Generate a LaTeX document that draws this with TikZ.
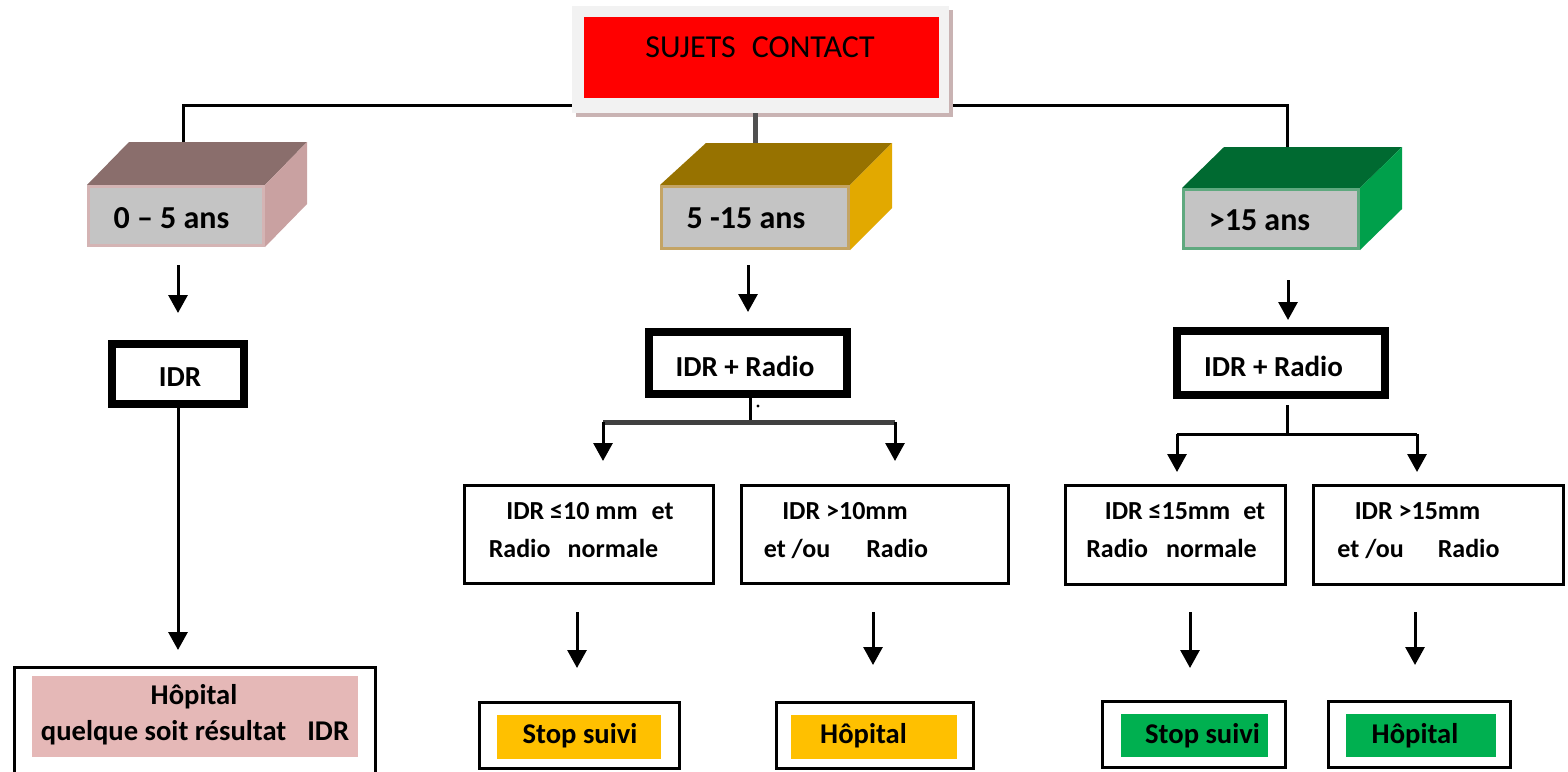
\documentclass[tikz,border=0pt]{standalone}
\usepackage{fontspec}
\setmainfont{Carlito}
\usetikzlibrary{arrows.meta,backgrounds,shadows}
\definecolor{topgray}{HTML}{F2F2F2}
\definecolor{shadowc}{HTML}{C9B3B3}
\definecolor{frontgray}{HTML}{C4C4C4}
\definecolor{midgray}{HTML}{505050}
\definecolor{bargray}{HTML}{404040}
\definecolor{bAtop}{HTML}{8A6E6C}
\definecolor{bAside}{HTML}{C9A1A1}
\definecolor{bAedge}{HTML}{D4B4B4}
\definecolor{bBtop}{HTML}{977200}
\definecolor{bBside}{HTML}{E2A900}
\definecolor{bBedge}{HTML}{C4A464}
\definecolor{bCtop}{HTML}{006A31}
\definecolor{bCside}{HTML}{00A04B}
\definecolor{bCedge}{HTML}{5FA97F}
\definecolor{pinkc}{HTML}{E5B8B7}
\definecolor{yellowc}{HTML}{FFC000}
\definecolor{greenc}{HTML}{00B050}
\begin{document}
\begin{tikzpicture}[x=0.5pt,y=-0.5pt,
  every node/.style={inner sep=0pt},
  line/.style={line width=1.5pt, draw=black},
  arr/.style={line width=1.5pt, draw=black, -{Triangle[width=9.5pt,length=9pt]}},
  face/.style={draw, line width=1.5pt, fill=frontgray},
  thickbox/.style={draw=black, line width=4pt, fill=white},
  thinbox/.style={draw=black, line width=1.5pt, fill=white},
  txt/.style={anchor=base},
  fbig/.style={font=\fontsize{16}{19}\selectfont\bfseries},
  fmid/.style={font=\fontsize{14.5}{17}\selectfont\bfseries},
  fsmall/.style={font=\fontsize{13}{15}\selectfont\bfseries},
  fbot/.style={font=\fontsize{14.3}{17}\selectfont\bfseries}
]
\useasboundingbox (0,0) rectangle (1568,771);
\begin{scope}[on background layer]
  \fill[white] (0,0) rectangle (1568,771);
\end{scope}

% bus line to the age groups
\coordinate (b1c) at (183,142);
\coordinate (b2c) at (755,143);
\coordinate (b3c) at (1287,147);
\coordinate (bus) at (0,105);
\draw[line] (b1c) |- (bus -| b3c) -- (b3c);

% top box
\node[fill=topgray, minimum width=188.5pt, minimum height=53.5pt,
      drop shadow={shadow xshift=2pt, shadow yshift=-2pt, fill=shadowc, opacity=1}] (top) at (760.5,59.5) {};
\node[fill=red, minimum width=177.5pt, minimum height=40.5pt] (topred) at (761.5,57.5) {};
\node[txt, font=\fontsize{16}{19}\selectfont] (toptxt) at (760,57) {SUJETS\hspace{8pt}CONTACT};
\draw[line width=2.5pt, draw=midgray] (b2c |- top.south) -- (b2c);

% 3D boxes
\node[face, draw=bAedge, minimum width=87.5pt, minimum height=29.5pt] (f1) at (176,216) {};
\node[face, draw=bBedge, minimum width=93.5pt, minimum height=31pt] (f2) at (755,217.5) {};
\node[face, draw=bCedge, minimum width=87.5pt, minimum height=29.5pt] (f3) at (1271,219) {};
\begin{scope}[on background layer]
  \fill[bAtop] (f1.north west) -- (f1.north east) -- ++(42,-43) -- ++(-178,0) -- cycle;
  \fill[bAside] (f1.north east) -- ++(42,-43) -- ++(0,62) -- (f1.south east) -- cycle;
  \fill[bBtop] (f2.north west) -- (f2.north east) -- ++(42,-42) -- ++(-186,0) -- cycle;
  \fill[bBside] (f2.north east) -- ++(42,-42) -- ++(0,65) -- (f2.south east) -- cycle;
  \fill[bCtop] (f3.north west) -- (f3.north east) -- ++(42,-41) -- ++(-178,0) -- cycle;
  \fill[bCside] (f3.north east) -- ++(42,-41) -- ++(0,62) -- (f3.south east) -- cycle;
\end{scope}
\node[txt, fbig] (t1) at (171.5,228) {0 – 5 ans};
\node[txt, fbig] (t2) at (746,228) {5 -15 ans};
\node[txt, fbig] (t3) at (1259.5,230) {>15 ans};

% short arrows under age groups
\coordinate (a1s) at (178,265); \coordinate (a1e) at (178,313);
\coordinate (a2s) at (748,265); \coordinate (a2e) at (748,312);
\coordinate (a3s) at (1288,280); \coordinate (a3e) at (1288,320);
\draw[arr] (a1s) -- (a1e);
\draw[arr] (a2s) -- (a2e);
\draw[arr] (a3s) -- (a3e);

% IDR boxes
\node[thickbox, minimum width=66pt, minimum height=30pt] (i1) at (178,374) {};
\node[txt, fmid] (i1t) at (180,386) {IDR};
\node[thickbox, minimum width=99pt, minimum height=31pt] (i2) at (748,363) {};
\node[txt, fmid] (i2t) at (745,376) {IDR + Radio};
\node[thickbox, minimum width=104pt, minimum height=32pt] (i3) at (1281,363) {};
\node[txt, fmid] (i3t) at (1273.5,376) {IDR + Radio};

% left column
\coordinate (h1tip) at (178,650);
\draw[arr] (i1.south) -- (h1tip);
\node[thinbox, minimum width=180.5pt, minimum height=65.5pt] (h1) at (195,733) {};
\node[fill=pinkc, minimum width=163pt, minimum height=40.5pt] (h1in) at (195,716.5) {};
\node[txt, fbot] (h1t1) at (194,704) {Hôpital};
\node[txt, fbot] (h1t2) at (195,740) {quelque soit résultat\hspace{10.5pt}IDR};

% middle branch
\coordinate (j2) at (750,422);
\coordinate (m1a) at (603,422);
\coordinate (m2a) at (895,422);
\coordinate (m1tip) at (603,461);
\coordinate (m2tip) at (895,461);
\draw[line] (j2 |- i2.south) -- (j2);
\draw[line width=2.5pt, draw=bargray] (m1a) -- (m2a);
\draw[arr] (m1a) -- (m1tip);
\draw[arr] (m2a) -- (m2tip);
\fill[black] (758,406) circle[radius=0.8pt];

\node[thinbox, minimum width=124.5pt, minimum height=49pt] (m1) at (589,534.5) {};
\node[thinbox, minimum width=133.5pt, minimum height=49pt] (m2) at (875,534.5) {};
\node[txt, fsmall] (m1l1) at (590,519) {IDR ≤10 mm\hspace{7pt}et};
\node[txt, fsmall] (m1l2) at (573.5,557) {Radio\hspace{8.5pt}normale};
\node[txt, fsmall] (m2l1) at (845,519) {IDR >10mm};
\node[txt, fsmall] (m2l2) at (846,557) {et /ou\hspace{18pt}Radio};

% right branch
\coordinate (j3top) at (1287,405);
\coordinate (j3) at (1287,434);
\coordinate (r1a) at (1177,434);
\coordinate (r2a) at (1417,434);
\coordinate (r1tip) at (1177,472);
\coordinate (r2tip) at (1417,472);
\draw[line] (j3top) -- (j3);
\draw[line] (r1a) -- (r2a);
\draw[arr] (r1a) -- (r1tip);
\draw[arr] (r2a) -- (r2tip);

\node[thinbox, minimum width=110pt, minimum height=49.5pt] (r1) at (1175.5,535) {};
\node[thinbox, minimum width=125pt, minimum height=49.5pt] (r2) at (1438.5,535) {};
\node[txt, fsmall] (r1l1) at (1185,519) {IDR ≤15mm\hspace{6.5pt}et};
\node[txt, fsmall] (r1l2) at (1171.5,557) {Radio\hspace{9pt}normale};
\node[txt, fsmall] (r2l1) at (1417.5,519) {IDR >15mm};
\node[txt, fsmall] (r2l2) at (1418.5,557) {et /ou\hspace{17pt}Radio};

% lower arrows
\coordinate (c1s) at (577,612); \coordinate (c1e) at (577,668);
\coordinate (c2s) at (873,612); \coordinate (c2e) at (873,665);
\coordinate (c3s) at (1190,612); \coordinate (c3e) at (1190,668);
\coordinate (c4s) at (1415,612); \coordinate (c4e) at (1415,665);
\draw[arr] (c1s) -- (c1e);
\draw[arr] (c2s) -- (c2e);
\draw[arr] (c3s) -- (c3e);
\draw[arr] (c4s) -- (c4e);

% bottom result boxes
\node[thinbox, minimum width=100pt, minimum height=33pt] (s1) at (579.5,735.5) {};
\node[fill=yellowc, minimum width=82pt, minimum height=22pt] (s1in) at (579,737) {};
\node[txt, fbot] (s1t) at (580,743) {Stop suivi};
\node[thinbox, minimum width=98.5pt, minimum height=33pt] (p1) at (875,735.5) {};
\node[fill=yellowc, minimum width=83pt, minimum height=22pt] (p1in) at (874,737) {};
\node[txt, fbot] (p1t) at (863.5,743) {Hôpital};
\node[thinbox, minimum width=91.5pt, minimum height=33pt] (s2) at (1194,734.5) {};
\node[fill=greenc, minimum width=73.5pt, minimum height=21.5pt] (s2in) at (1194.5,735.5) {};
\node[txt, fbot] (s2t) at (1202.5,743) {Stop suivi};
\node[thinbox, minimum width=91pt, minimum height=33pt] (p2) at (1419.5,734.5) {};
\node[fill=greenc, minimum width=75pt, minimum height=21.5pt] (p2in) at (1421,735.5) {};
\node[txt, fbot] (p2t) at (1415,743) {Hôpital};
\end{tikzpicture}
\end{document}
